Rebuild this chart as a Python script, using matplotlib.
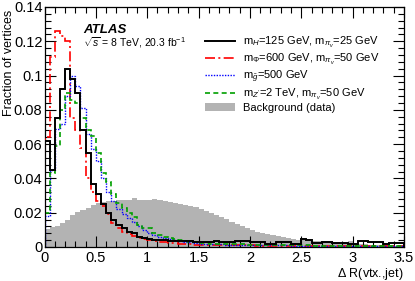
import matplotlib

matplotlib.use("Agg")
import matplotlib.pyplot as plt
import numpy as np
from matplotlib.ticker import MultipleLocator, FuncFormatter

plt.rcParams["font.family"] = ["Liberation Sans", "DejaVu Sans"]
plt.rcParams["mathtext.fontset"] = "custom"
plt.rcParams["mathtext.rm"] = "Liberation Sans"
plt.rcParams["mathtext.it"] = "Liberation Sans:italic"

# 70 bins of width 0.05 from 0 to 3.5
bin_edges = np.linspace(0.0, 3.5, 71)

m_h125 = [
    0.062, 0.045, 0.075, 0.092, 0.104, 0.098, 0.090, 0.068, 0.055, 0.037,
    0.031, 0.025, 0.020, 0.016, 0.013, 0.011, 0.009, 0.008, 0.006, 0.005,
    0.0045, 0.0042, 0.0040, 0.0038, 0.0036, 0.0035, 0.0034, 0.0033, 0.0034, 0.0032,
    0.0030, 0.0031, 0.0029, 0.0037, 0.0030, 0.0031, 0.0029, 0.0033, 0.0033, 0.0036,
    0.0029, 0.0029, 0.0028, 0.0018, 0.0019, 0.0028, 0.0030, 0.0030, 0.0017, 0.0016,
    0.0045, 0.0040, 0.0023, 0.0023, 0.0030, 0.0030, 0.0026, 0.0026, 0.0022, 0.0018,
    0.0016, 0.0037, 0.0037, 0.0027, 0.0027, 0.0030, 0.0017, 0.0025, 0.0025, 0.0022,
]

m_phi600 = [
    0.064, 0.111, 0.126, 0.123, 0.120, 0.075, 0.068, 0.058, 0.040, 0.032,
    0.027, 0.024, 0.019, 0.014, 0.011, 0.009, 0.0075, 0.0065, 0.005, 0.0045,
    0.0040, 0.0035, 0.0030, 0.0028, 0.0025, 0.0022, 0.0018, 0.0016, 0.0015, 0.0014,
    0.0013, 0.0012, 0.0012, 0.0011, 0.0011, 0.0010, 0.0010, 0.0010, 0.0009, 0.0009,
    0.0009, 0.0008, 0.0008, 0.0008, 0.0008, 0.0007, 0.0007, 0.0007, 0.0007, 0.0007,
    0.0006, 0.0006, 0.0006, 0.0006, 0.0006, 0.0006, 0.0005, 0.0005, 0.0005, 0.0005,
    0.0005, 0.0005, 0.0005, 0.0004, 0.0004, 0.0004, 0.0004, 0.0004, 0.0004, 0.0004,
]

m_gluino500 = [
    0.018, 0.045, 0.069, 0.072, 0.088, 0.100, 0.094, 0.081, 0.066, 0.057,
    0.050, 0.040, 0.032, 0.027, 0.022, 0.019, 0.017, 0.0146, 0.012, 0.010,
    0.008, 0.007, 0.006, 0.005, 0.0045, 0.0040, 0.0035, 0.0030, 0.0027, 0.0025,
    0.0020, 0.0018, 0.0017, 0.0016, 0.0015, 0.0014, 0.0013, 0.0013, 0.0012, 0.0012,
    0.0011, 0.0011, 0.0010, 0.0010, 0.0010, 0.0009, 0.0009, 0.0009, 0.0008, 0.0008,
    0.0008, 0.0008, 0.0007, 0.0007, 0.0007, 0.0007, 0.0006, 0.0006, 0.0006, 0.0006,
    0.0006, 0.0005, 0.0005, 0.0005, 0.0005, 0.0005, 0.0005, 0.0004, 0.0004, 0.0004,
]

m_zprime2tev = [
    0.020, 0.043, 0.059, 0.080, 0.090, 0.086, 0.084, 0.075, 0.068, 0.065,
    0.055, 0.043, 0.038, 0.031, 0.0255, 0.023, 0.020, 0.0177, 0.013, 0.011,
    0.011, 0.008, 0.007, 0.006, 0.005, 0.0045, 0.0040, 0.0035, 0.0030, 0.0030,
    0.0025, 0.0022, 0.0020, 0.0019, 0.0018, 0.0017, 0.0016, 0.0015, 0.0015, 0.0014,
    0.0013, 0.0013, 0.0012, 0.0012, 0.0011, 0.0011, 0.0010, 0.0010, 0.0010, 0.0009,
    0.0009, 0.0009, 0.0008, 0.0008, 0.0008, 0.0008, 0.0007, 0.0007, 0.0007, 0.0007,
    0.0006, 0.0006, 0.0006, 0.0006, 0.0006, 0.0005, 0.0005, 0.0005, 0.0005, 0.0005,
]

background = [
    0.0105, 0.0115, 0.0125, 0.014, 0.0158, 0.0187, 0.0205, 0.0216, 0.023, 0.0245,
    0.0255, 0.026, 0.0268, 0.027, 0.0272, 0.0274, 0.0276, 0.0286, 0.0275, 0.0274,
    0.0274, 0.028, 0.0272, 0.027, 0.026, 0.0255, 0.025, 0.0245, 0.0238, 0.0232,
    0.0222, 0.0212, 0.0200, 0.0185, 0.0175, 0.0162, 0.0148, 0.0134, 0.0122, 0.0110,
    0.0099, 0.0090, 0.0084, 0.0076, 0.0070, 0.0062, 0.0056, 0.0050, 0.0047, 0.0043,
    0.0040, 0.0040, 0.0037, 0.0035, 0.0030, 0.0030, 0.0025, 0.0025, 0.0025, 0.0035,
    0.0018, 0.0017, 0.0015, 0.0013, 0.0012, 0.0010, 0.0010, 0.0009, 0.0008, 0.0008,
]

labels = [
    r"m$_{H}$=125 GeV, m$_{\pi_{v}}$=25 GeV",
    r"m$_{\Phi}$=600 GeV, m$_{\pi_{v}}$=50 GeV",
    r"m$_{\tilde{g}}$=500 GeV",
    r"m$_{Z'}$=2 TeV, m$_{\pi_{v}}$=50 GeV",
    "Background (data)",
]

fig = plt.figure(figsize=(4.15, 2.81), dpi=100)
ax = fig.add_axes([44.5 / 415, 1 - 247 / 281, (404 - 44.5) / 415, 240 / 281])

bg = ax.stairs(background, bin_edges, fill=True, color="#b3b3b3", lw=0, zorder=1)
red = ax.stairs(m_phi600, bin_edges, color="red", lw=1.2, ls=(0, (6, 2, 1.2, 2)), zorder=3)
blue = ax.stairs(m_gluino500, bin_edges, color="blue", lw=1.0, ls=(0, (1, 1)), zorder=3)
green = ax.stairs(m_zprime2tev, bin_edges, color="#00a000", lw=1.2, ls=(0, (3, 2)), zorder=3)
black = ax.stairs(m_h125, bin_edges, color="black", lw=1.4, zorder=4)

ax.set_xlim(0, 3.5)
ax.set_ylim(0, 0.14)

ax.xaxis.set_major_locator(MultipleLocator(0.5))
ax.xaxis.set_minor_locator(MultipleLocator(0.1))
ax.yaxis.set_major_locator(MultipleLocator(0.02))
ax.yaxis.set_minor_locator(MultipleLocator(0.004))
fmt = FuncFormatter(lambda v, pos: f"{v:g}")
ax.xaxis.set_major_formatter(fmt)
ax.yaxis.set_major_formatter(fmt)
ax.tick_params(which="both", direction="in", top=True, right=True, width=0.8)
ax.tick_params(which="major", length=8, labelsize=10.5)
ax.tick_params(which="minor", length=4)
ax.tick_params(axis="y", pad=1.5)
ax.tick_params(axis="x", pad=3)
for s in ax.spines.values():
    s.set_linewidth(0.9)

ax.set_ylabel("Fraction of vertices", fontsize=9, loc="top")
ax.yaxis.set_label_coords(-0.082, 0.99)
ax.set_xlabel(r"$\Delta$ R(vtx.,jet)", fontsize=9, loc="right")
ax.xaxis.set_label_coords(1.0, -0.080)

ax.text(0.107, 0.892, "ATLAS", transform=ax.transAxes, fontsize=9.5,
        fontweight="bold", fontstyle="italic")
ax.text(0.107, 0.836, r"$\sqrt{s}$ = 8 TeV, 20.3 fb$^{-1}$", transform=ax.transAxes,
        fontsize=7.5)

leg = ax.legend([black, red, blue, green, bg], labels, loc="upper left",
                bbox_to_anchor=(205 / 415, 1 - 35 / 281), bbox_transform=fig.transFigure,
                frameon=False, fontsize=8, handlelength=2.7, handletextpad=0.7,
                labelspacing=0.15, borderpad=0, borderaxespad=0)

fig.savefig("out.png", dpi=100)
